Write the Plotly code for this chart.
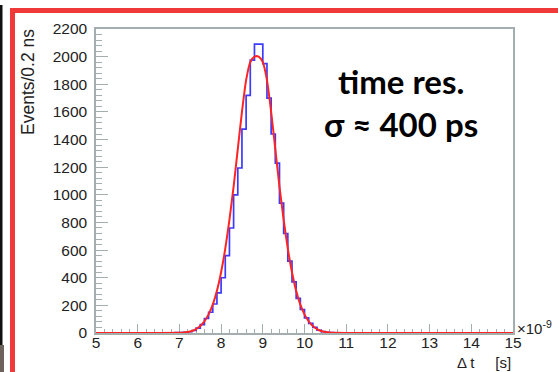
import plotly.graph_objects as go

# ---------------- data ----------------
bin_lo = 5.0
bin_width = 0.1
hist_counts = [
    0, 0, 0, 0, 0, 0, 1, 0, 0, 0, 0, 0, 1, 0, 0, 1, 0, 1,          # 5.0 - 6.7
    1, 2, 3, 5, 9, 18, 35, 60, 105, 150,                            # 6.8 - 7.7
    210, 290, 400, 560, 760, 1000, 1194, 1476, 1720, 1975,          # 7.8 - 8.7
    2090, 2090, 1950, 1700, 1440, 1230, 940, 720, 520, 370,         # 8.8 - 9.7
    250, 170, 110, 70, 40, 20, 10, 5, 2, 1, 0, 1,                   # 9.8 - 10.9
    0, 0, 1, 0, 0, 0, 0, 0, 0, 0, 0, 0, 0, 0, 0, 0, 0, 0, 0, 0,     # 11.0 - 12.9
    0, 0, 0, 0, 0, 0, 0, 0, 0, 0, 0, 0, 0, 0, 0, 0, 0, 0, 0, 0,     # 13.0 - 14.9
]

fit_t = [5.0, 6.5, 7.0, 7.1, 7.2, 7.3, 7.4, 7.5, 7.6, 7.7, 7.8, 7.9, 8.0,
         8.1, 8.2, 8.3, 8.4, 8.5, 8.6, 8.7, 8.8, 8.9, 9.0, 9.1, 9.2, 9.3,
         9.4, 9.5, 9.6, 9.7, 9.8, 9.9, 10.0, 10.1, 10.2, 10.3, 10.4, 10.5,
         10.6, 10.7, 11.0, 15.0]
fit_y = [0, 0, 1, 3, 7, 14, 28, 50, 85, 135, 205, 305, 440,
         610, 820, 1060, 1330, 1600, 1830, 1960, 2000, 2000, 1960, 1830, 1600, 1330,
         1060, 820, 610, 440, 305, 205, 135, 85, 50, 28, 14, 7,
         3, 1, 0, 0]

x_ticks = [5, 6, 7, 8, 9, 10, 11, 12, 13, 14, 15]
y_ticks = [0, 200, 400, 600, 800, 1000, 1200, 1400, 1600, 1800, 2000, 2200]

y_title = "Events/0.2 ns"
x_title = "Δ t     [s]"
x_exp = "×10<sup>-9</sup>"
note_line1 = "time res."
note_line2 = "σ ≈ 400 ps"

# ---------------- geometry ----------------
W, H = 558, 372
L, R, T, B = 96, 513, 29, 333


def px(x):
    return (x - L) / (R - L)


def py(y):
    return (B - y) / (B - T)


edges = [bin_lo + i * bin_width for i in range(len(hist_counts) + 1)]
step_x = edges
step_y = hist_counts + [hist_counts[-1]]

frame_col = "#a4aeae"
sans = "Liberation Sans, Arial, sans-serif"
tick_font = dict(family=sans, size=15.5, color="#222222")

fig = go.Figure()
fig.add_trace(go.Scatter(
    x=step_x, y=step_y, mode="lines", line=dict(color="#3b3bff", width=1.7, shape="hv"),
    cliponaxis=False, showlegend=False, hoverinfo="skip"))
fig.add_trace(go.Scatter(
    x=fit_t, y=fit_y, mode="lines", line=dict(color="#ff2424", width=2, shape="spline", smoothing=0.6),
    cliponaxis=False, showlegend=False, hoverinfo="skip"))

fig.update_layout(
    width=W, height=H,
    margin=dict(l=L, r=W - R, t=T, b=H - B, pad=0),
    paper_bgcolor="white", plot_bgcolor="white",
    showlegend=False,
    xaxis=dict(range=[5, 15], tickvals=x_ticks, ticktext=[str(v) for v in x_ticks],
               showgrid=False, zeroline=False, showline=True, mirror=True,
               linecolor=frame_col, linewidth=1.5, ticks="inside", ticklen=9,
               tickcolor=frame_col, tickwidth=1.2, tickfont=tick_font,
               layer="below traces", ticklabelstandoff=-5,
               minor=dict(ticks="inside", ticklen=4.5, dtick=0.2, tick0=5,
                          tickcolor=frame_col, tickwidth=1, showgrid=False)),
    yaxis=dict(range=[0, 2200], tickvals=y_ticks, ticktext=[str(v) for v in y_ticks],
               showgrid=False, zeroline=False, showline=True, mirror=True,
               linecolor=frame_col, linewidth=1.5, ticks="inside", ticklen=12,
               tickcolor=frame_col, tickwidth=1.2, tickfont=tick_font,
               layer="below traces", ticklabelstandoff=4,
               minor=dict(ticks="inside", ticklen=6, dtick=40, tick0=0,
                          tickcolor=frame_col, tickwidth=1, showgrid=False)),
)

annotations = [
    dict(text=y_title, x=px(28), y=py(27), xref="paper", yref="paper", xanchor="center",
         yanchor="top", textangle=-90, showarrow=False,
         font=dict(family=sans, size=17.5, color="#222222")),
    dict(text=x_title, x=px(513), y=py(362), xref="paper", yref="paper", xanchor="right",
         yanchor="middle", showarrow=False,
         font=dict(family=sans, size=15, color="#222222")),
    dict(text=x_exp, x=px(515), y=py(327), xref="paper", yref="paper", xanchor="left",
         yanchor="middle", showarrow=False,
         font=dict(family=sans, size=15, color="#222222")),
    dict(text="<b>%s</b><br><b>%s</b>" % (note_line1, note_line2),
         x=px(401), y=py(102.5), xref="paper", yref="paper", align="center",
         xanchor="center", yanchor="middle", showarrow=False,
         font=dict(family="Lato, sans-serif", size=33, color="#000000")),
]
fig.update_layout(annotations=annotations)

red = "#f03a3a"
shapes = [
    dict(type="rect", xref="paper", yref="paper", x0=px(10), x1=px(W + 2), y0=py(8), y1=py(13),
         fillcolor=red, line=dict(width=0), layer="above"),
    dict(type="rect", xref="paper", yref="paper", x0=px(10), x1=px(15), y0=py(8), y1=py(H + 2),
         fillcolor=red, line=dict(width=0), layer="above"),
    dict(type="rect", xref="paper", yref="paper", x0=px(0), x1=px(2.5), y0=py(5), y1=py(345),
         fillcolor="#111111", line=dict(width=0), layer="above"),
    dict(type="rect", xref="paper", yref="paper", x0=px(0), x1=px(4), y0=py(345), y1=py(H + 2),
         fillcolor="#6e625c", line=dict(width=0), layer="above"),
]
fig.update_layout(shapes=shapes)

fig.write_html("out.html")
